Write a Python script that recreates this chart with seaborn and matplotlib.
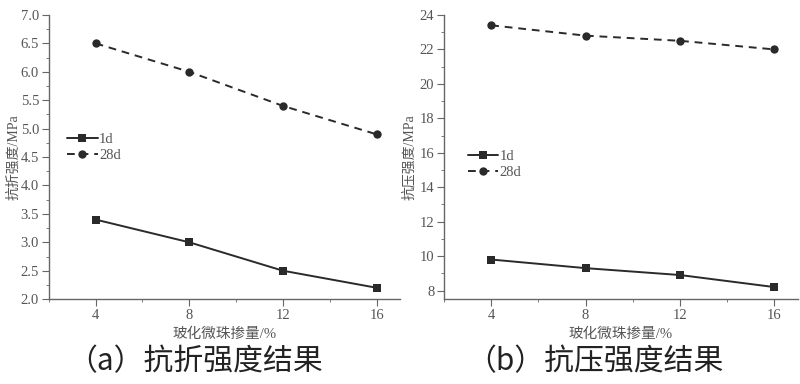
import matplotlib
matplotlib.use("Agg")
import matplotlib.pyplot as plt
import seaborn as sns
import pandas as pd
from matplotlib.ticker import MultipleLocator

dosage = [4, 8, 12, 16]
flex_1d = [3.4, 3.0, 2.5, 2.2]
flex_28d = [6.5, 6.0, 5.4, 4.9]
comp_1d = [9.8, 9.3, 8.9, 8.2]
comp_28d = [23.4, 22.8, 22.5, 22.0]
ages = ["1d", "28d"]
xlabel = "玻化微珠掺量/%"
ylabels = ["抗折强度/MPa", "抗压强度/MPa"]
captions = ["（a）抗折强度结果", "（b）抗压强度结果"]

sns.set_style("ticks")
serif = ["Liberation Serif", "Noto Sans CJK SC"]
plt.rcParams["font.family"] = serif
plt.rcParams["axes.unicode_minus"] = False

ink = "#2a2a2a"
txt = "#555555"


def long_df(a, b):
    return pd.DataFrame({
        "x": dosage * 2,
        "y": a + b,
        "age": [ages[0]] * 4 + [ages[1]] * 4,
    })


fig = plt.figure(figsize=(8, 3.84), dpi=100)
ax1 = fig.add_axes([0.061, 0.221, 0.439, 0.740])
ax2 = fig.add_axes([0.555, 0.221, 0.4425, 0.740])

panels = [
    (ax1, long_df(flex_1d, flex_28d), (2.0, 7.0), 0.5, 0.25, "{:.1f}", (0.035, 0.535)),
    (ax2, long_df(comp_1d, comp_28d), (7.5, 24), 2, 1, "{:.0f}", (0.05, 0.475)),
]

for ax, df, ylim, major, minor, fmt, legpos in panels:
    sns.lineplot(data=df, x="x", y="y", hue="age", style="age",
                 markers={"1d": "s", "28d": "o"},
                 dashes={"1d": "", "28d": (4, 3)},
                 palette={"1d": ink, "28d": ink},
                 linewidth=1.4, markersize=6, markeredgewidth=0,
                 ax=ax)
    ax.set_xlim(2, 17)
    ax.set_ylim(*ylim)
    ax.set_xticks(dosage)
    ax.xaxis.set_minor_locator(MultipleLocator(2))
    ax.yaxis.set_major_locator(MultipleLocator(major))
    ax.yaxis.set_minor_locator(MultipleLocator(minor))
    ax.set_yticklabels([fmt.format(v) for v in ax.get_yticks()])
    ax.set_ylim(*ylim)
    sns.despine(ax=ax)
    for s in ("left", "bottom"):
        ax.spines[s].set_color("#666666")
        ax.spines[s].set_linewidth(1.0)
    ax.tick_params(which="both", direction="out", colors="#666666",
                   labelcolor=txt, labelsize=10.5, pad=2)
    ax.tick_params(which="major", length=5)
    ax.tick_params(which="minor", length=2.5)
    ax.set_xlabel(xlabel, fontsize=10.5, color=txt, labelpad=4)
    leg = ax.legend(loc="center left", bbox_to_anchor=legpos, frameon=False,
                    fontsize=10.5, handlelength=2.1, labelspacing=0.2,
                    handletextpad=0.1, borderaxespad=0)
    for t in leg.get_texts():
        t.set_color(txt)

ax1.set_ylabel(ylabels[0], fontsize=10, color=txt)
ax2.set_ylabel(ylabels[1], fontsize=10, color=txt)
ax1.yaxis.set_label_coords(-0.08, 0.5)
ax2.yaxis.set_label_coords(-0.08, 0.5)

for xc, cap in zip([0.244, 0.744], captions):
    fig.text(xc, 0.057, cap, ha="center", va="center",
             fontsize=21.5, color="#222222", family=["Noto Sans CJK SC", "DejaVu Sans"])

fig.savefig("out.png", dpi=100)
